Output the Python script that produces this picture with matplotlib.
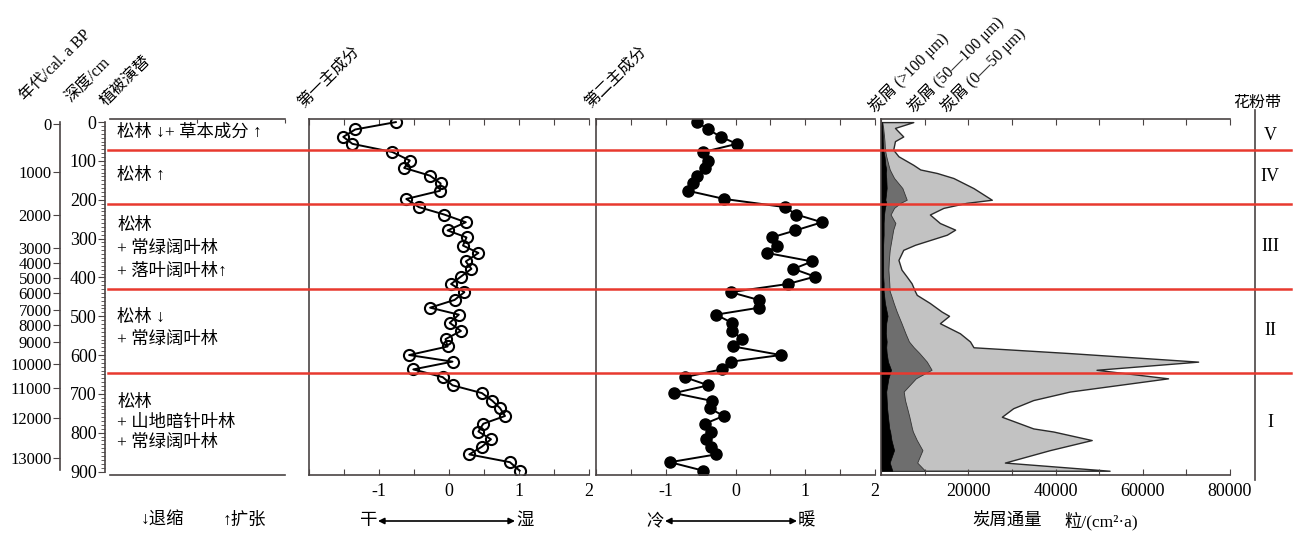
import numpy as np
import matplotlib
matplotlib.use("Agg")
import matplotlib.pyplot as plt
import matplotlib.transforms as mtransforms
from matplotlib.lines import Line2D
from matplotlib.patches import FancyArrowPatch
from matplotlib.ticker import MultipleLocator, FixedLocator, FuncFormatter

plt.rcParams['font.family'] = ['Liberation Serif', 'Noto Sans CJK SC']
plt.rcParams['axes.unicode_minus'] = False

# ---- data ----
depth = [0, 19, 38, 56, 77, 99, 118, 138, 158, 177, 198, 219, 238, 258, 279, 297,
         318, 337, 359, 378, 398, 417, 438, 458, 478, 496, 517, 538, 559, 578, 600,
         617, 637, 657, 678, 698, 718, 737, 757, 777, 797, 817, 836, 856, 876, 898]
pc1 = [-0.76, -1.34, -1.51, -1.38, -0.81, -0.56, -0.64, -0.27, -0.12, -0.13, -0.61,
       -0.43, -0.07, 0.24, -0.02, 0.25, 0.20, 0.42, 0.24, 0.32, 0.17, 0.03, 0.22,
       0.08, -0.27, 0.14, 0.01, 0.17, -0.05, -0.02, -0.57, 0.05, -0.51, -0.09, 0.05,
       0.47, 0.62, 0.73, 0.80, 0.49, 0.42, 0.60, 0.47, 0.29, 0.87, 1.01]
pc2 = [-0.55, -0.39, -0.21, 0.02, -0.46, -0.40, -0.44, -0.55, -0.61, -0.68, -0.16,
       0.71, 0.87, 1.24, 0.86, 0.52, 0.59, 0.45, 1.10, 0.83, 1.14, 0.75, -0.07, 0.33,
       0.34, -0.28, -0.05, -0.05, 0.10, -0.03, 0.65, -0.06, -0.20, -0.73, -0.39, -0.88,
       -0.34, -0.37, -0.17, -0.44, -0.35, -0.42, -0.35, -0.28, -0.94, -0.46]

# charcoal influx, cumulative boundaries (grains/(cm2 a))
char_depth = [0, 15, 37, 49, 71, 88, 110, 122, 131, 144, 170, 200, 208, 221, 238, 260,
              277, 290, 316, 329, 355, 380, 398, 415, 436, 445, 466, 488, 499, 518, 544,
              565, 580, 595, 617, 638, 660, 694, 716, 737, 759, 789, 797, 819, 845, 877, 898]
flux_total = [7400, 3200, 5100, 3200, 2800, 4000, 7400, 9000, 12800, 16600, 21200, 25400,
              19600, 14300, 11200, 13500, 17000, 15100, 7800, 5100, 4000, 4700, 5900, 7000,
              7800, 8200, 11200, 13900, 15600, 13500, 18100, 20400, 21200, 43300, 72700,
              49400, 65800, 43300, 34900, 30300, 27700, 34900, 39500, 48300, 38700, 28400, 52400]
flux_ge50 = [300, 500, 700, 800, 900, 1200, 1700, 2000, 2400, 3000, 4900, 5900, 4500, 3000,
             2200, 3300, 2800, 2600, 2200, 2000, 1800, 1700, 1800, 1900, 2000, 2300, 2900,
             3600, 4000, 4700, 5600, 6400, 7500, 8800, 10500, 11600, 8000, 5200, 5500, 6000,
             6500, 7100, 7300, 8200, 9500, 8300, 10100]
flux_gt100 = [200, 300, 400, 400, 500, 800, 1000, 1200, 1100, 1200, 1300, 1000, 1200, 900,
              700, 600, 600, 600, 500, 500, 500, 500, 500, 600, 600, 700, 900, 1300, 1500,
              1200, 1100, 1300, 1200, 1300, 1600, 2300, 1700, 1200, 1300, 1400, 1600, 1900,
              2100, 2400, 3000, 2000, 2600]

age_labels = [0, 1000, 2000, 3000, 4000, 5000, 6000, 7000, 8000, 9000, 10000, 11000, 12000, 13000]
age_depth = [6, 129, 240, 325, 364, 402, 441, 484, 522, 567, 623, 686, 763, 864]

zone_bounds = [71, 210, 429, 646]
zone_names = ["V", "IV", "III", "II", "I"]
zone_mid = [35, 140, 320, 538, 773]

veg_depth = [27, 138, 267, 326, 386, 504, 561, 723, 775, 826]
veg_text = ["松林 ↓+ 草本成分 ↑", "松林 ↑", "松林", "+ 常绿阔叶林", "+ 落叶阔叶林↑",
            "松林 ↓", "+ 常绿阔叶林", "松林", "+ 山地暗针叶林", "+ 常绿阔叶林"]

W, H = 1293, 535
fig = plt.figure(figsize=(W / 100, H / 100), dpi=100)
SPINE = '#4a4444'
RED = '#e8392f'
YLIM = (909, -8)
FS = 13      # numbers
AFS = 12     # age labels (tightly packed)
CFS = 12.5   # chinese body text
HFS = 11.5   # rotated headers


def fx(x):
    return x / W


def fy(y):
    return 1 - y / H


def add_ax(x0, x1, y0=119, y1=475):
    ax = fig.add_axes([x0 / W, 1 - y1 / H, (x1 - x0) / W, (y1 - y0) / H])
    ax.set_ylim(*YLIM)
    ax.patch.set_alpha(0)
    for s in ax.spines.values():
        s.set_color(SPINE)
        s.set_linewidth(1.2)
    ax.spines['right'].set_visible(False)
    return ax


# age axis
ax_age = add_ax(60, 66)
for s in ['top', 'bottom']:
    ax_age.spines[s].set_visible(False)
ax_age.spines['left'].set_bounds(0, 895)
ax_age.set_xticks([])
ax_age.yaxis.set_major_locator(FixedLocator(age_depth))
ax_age.set_yticklabels([str(a) for a in age_labels])
ax_age.tick_params(axis='y', direction='out', length=5, labelsize=AFS, pad=1, color=SPINE)

# depth axis + vegetation column
ax_d = add_ax(105, 290)
ax_d.set_xlim(0, 185)
ax_d.spines['left'].set_bounds(0, 900)
ax_d.spines['top'].set_bounds(5, 180)
ax_d.spines['bottom'].set_bounds(5, 180)
ax_d.yaxis.set_major_locator(MultipleLocator(100))
ax_d.yaxis.set_minor_locator(MultipleLocator(10))
ax_d.tick_params(axis='y', which='major', direction='out', length=5, labelsize=FS, pad=1, color=SPINE)
ax_d.tick_params(axis='y', which='minor', direction='out', length=3, color=SPINE)
ax_d.xaxis.tick_top()
ax_d.set_xticks([92, 180])
ax_d.tick_params(axis='x', direction='in', length=3, labeltop=False, color=SPINE)
for d, t in zip(veg_depth, veg_text):
    ax_d.text(12, d, t, va='center', ha='left', fontsize=CFS)


def pc_axes(x0, x1):
    ax = add_ax(x0, x1)
    ax.set_xlim(-2, 2)
    ax.xaxis.set_major_locator(MultipleLocator(0.5))
    ax.xaxis.set_major_formatter(FuncFormatter(
        lambda v, p: str(int(round(v))) if abs(v - round(v)) < 1e-6 and v > -1.5 else ''))
    ax.tick_params(axis='x', direction='in', length=4, labelsize=FS, color=SPINE,
                   top=True, labeltop=False, pad=6)
    ax.set_yticks([])
    return ax


ax1 = pc_axes(309, 589)
ax1.plot(pc1, depth, '-o', color='k', lw=1.4, ms=8, mfc='none', mec='k', mew=1.5)

ax2 = pc_axes(596, 875)
ax2.plot(pc2, depth, '-o', color='k', lw=1.4, ms=8, mfc='k', mec='k')

# charcoal
ax3 = add_ax(881, 1230)
ax3.set_xlim(0, 80000)
ax3.fill_betweenx(char_depth, 0, flux_total, facecolor='#c2c2c2', edgecolor='#2a2a2a', lw=1)
ax3.fill_betweenx(char_depth, 0, flux_ge50, facecolor='#6e6e6e', edgecolor='#333333', lw=0.6)
ax3.fill_betweenx(char_depth, 0, flux_gt100, facecolor='#000000', edgecolor='#000000', lw=0.5)
ax3.xaxis.set_major_locator(MultipleLocator(10000))
ax3.xaxis.set_major_formatter(FuncFormatter(
    lambda v, p: str(int(v)) if v > 0 and int(v) % 20000 == 0 else ''))
ax3.tick_params(axis='x', direction='in', length=4, labelsize=FS, color=SPINE,
                top=True, labeltop=False, pad=6)
ax3.set_yticks([])

# zone column line
fig.add_artist(Line2D([fx(1255), fx(1255)], [fy(110), fy(480)], transform=fig.transFigure,
                      color=SPINE, lw=1.2))

# red zone boundaries across all panels
blend = mtransforms.blended_transform_factory(fig.transFigure, ax_d.transData)
for b in zone_bounds:
    fig.add_artist(Line2D([fx(108), fx(1291)], [b, b], transform=blend, color=RED, lw=1.8))
for n, m in zip(zone_names, zone_mid):
    fig.text(fx(1270), m, n, transform=blend, ha='center', va='center', fontsize=13)

# rotated header labels
heads = [(28, 104, "年代/cal. a BP"), (74, 106, "深度/cm"), (109, 109, "植被演替"),
         (306, 111, "第一主成分"), (593, 111, "第二主成分"),
         (878, 116, "炭屑 (>100 μm)"), (917, 116, "炭屑 (50—100 μm)"),
         (950, 116, "炭屑 (0—50 μm)")]
for x, y, t in heads:
    fig.text(fx(x), fy(y), t, rotation=45, rotation_mode='anchor', ha='left', va='bottom',
             fontsize=HFS)
fig.text(fx(1257), fy(103), "花粉带", ha='center', va='center', fontsize=HFS)

# bottom annotations
by = 521
fig.text(fx(141), fy(by), "↓退缩", ha='left', va='center', fontsize=CFS)
fig.text(fx(223), fy(by), "↑扩张", ha='left', va='center', fontsize=CFS)
fig.text(fx(377), fy(by), "干", ha='right', va='center', fontsize=CFS)
fig.text(fx(516), fy(by), "湿", ha='left', va='center', fontsize=CFS)
fig.text(fx(664), fy(by), "冷", ha='right', va='center', fontsize=CFS)
fig.text(fx(798), fy(by), "暖", ha='left', va='center', fontsize=CFS)
for x0, x1 in [(378, 515), (665, 797)]:
    fig.add_artist(FancyArrowPatch((fx(x0), fy(by)), (fx(x1), fy(by)), transform=fig.transFigure,
                                   arrowstyle='<|-|>', mutation_scale=9, lw=1.2, color='k',
                                   shrinkA=0, shrinkB=0))
fig.text(fx(972), fy(by), "炭屑通量", ha='left', va='center', fontsize=CFS)
fig.text(fx(1064), fy(by), "粒/(cm²·a)", ha='left', va='center', fontsize=CFS)

fig.savefig("out.png", dpi=100)
